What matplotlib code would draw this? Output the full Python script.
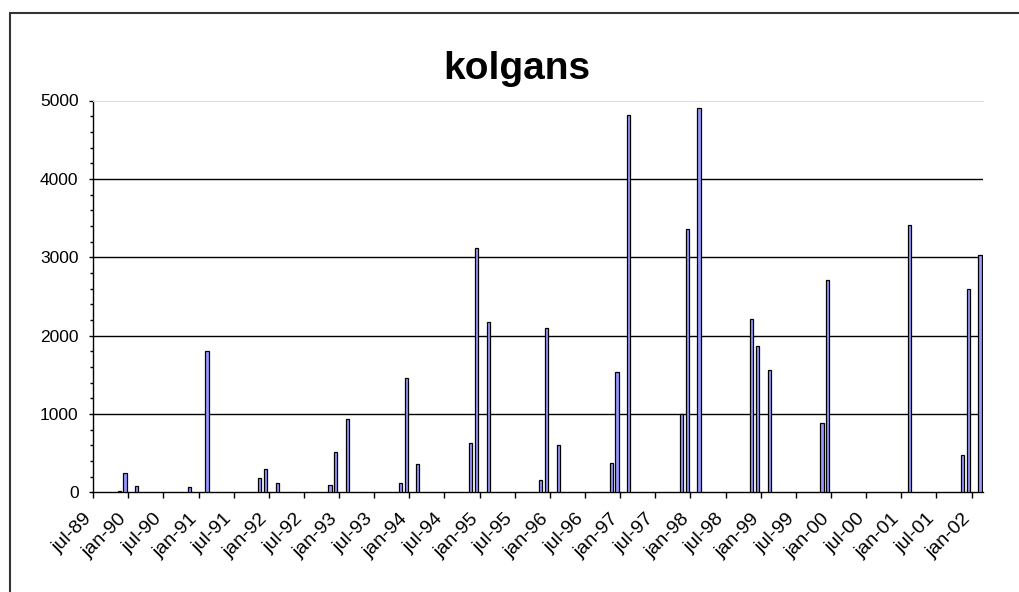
import matplotlib
matplotlib.use("Agg")
import matplotlib.pyplot as plt
from matplotlib.patches import Rectangle
from matplotlib.ticker import MultipleLocator
from matplotlib.transforms import ScaledTranslation

plt.rcParams['font.family'] = ['Liberation Sans', 'DejaVu Sans']

# Monthly categories from jul-89 to feb-02
month_names = ['jan', 'feb', 'mar', 'apr', 'maj', 'jun',
               'jul', 'aug', 'sep', 'okt', 'nov', 'dec']
categories = []
for k in range(152):
    m = (6 + k) % 12
    y = (1989 + (6 + k) // 12) % 100
    categories.append(f"{month_names[m]}-{y:02d}")

# Months with data and their values
bar_months = ['nov-89', 'dec-89', 'feb-90', 'nov-90', 'feb-91',
              'nov-91', 'dec-91', 'feb-92', 'nov-92', 'dec-92', 'feb-93',
              'nov-93', 'dec-93', 'feb-94', 'nov-94', 'dec-94', 'feb-95',
              'nov-95', 'dec-95', 'feb-96', 'nov-96', 'dec-96', 'feb-97',
              'nov-97', 'dec-97', 'feb-98', 'nov-98', 'dec-98', 'feb-99',
              'nov-99', 'dec-99', 'feb-01', 'nov-01', 'dec-01', 'feb-02']
bar_values = [20, 240, 75, 68, 1800,
              185, 295, 115, 90, 515, 935,
              115, 1465, 355, 630, 3120, 2175,
              155, 2095, 600, 370, 1540, 4810,
              1000, 3360, 4905, 2215, 1862, 1558,
              885, 2710, 3410, 476, 2590, 3030]

tick_labels = ['jul-89', 'jan-90', 'jul-90', 'jan-91', 'jul-91', 'jan-92',
               'jul-92', 'jan-93', 'jul-93', 'jan-94', 'jul-94', 'jan-95',
               'jul-95', 'jan-96', 'jul-96', 'jan-97', 'jul-97', 'jan-98',
               'jul-98', 'jan-99', 'jul-99', 'jan-00', 'jul-00', 'jan-01',
               'jul-01', 'jan-02']

W, H = 1019, 592
fig = plt.figure(figsize=(W / 100, H / 100), dpi=100)
fig.patch.set_facecolor('white')

# outer chart-area border
fig.patches.append(Rectangle((10 / W, -0.02), 1.05, (H - 13) / H + 0.02,
                             transform=fig.transFigure, fill=False,
                             edgecolor='#333333', linewidth=1.5, zorder=0))

left, right = 93.1 / W, 983.3 / W
bottom, top = (H - 492.3) / H, (H - 100.5) / H
ax = fig.add_axes([left, bottom, right - left, top - bottom])

xpos = [categories.index(mn) + 0.45 for mn in bar_months]
ax.bar(xpos, bar_values, width=0.55, color='#9999FF', edgecolor='black',
       linewidth=0.9, zorder=3)

ax.set_xlim(0, 152)
ax.set_ylim(0, 5000)

for gy in [1000, 2000, 3000, 4000]:
    ax.axhline(gy, color='black', linewidth=1.0, zorder=1)

ax.spines['right'].set_visible(False)
ax.spines['top'].set_color('#DDDDDD')
ax.spines['left'].set_linewidth(1.0)
ax.spines['bottom'].set_linewidth(1.0)

ax.set_yticks([0, 1000, 2000, 3000, 4000, 5000])
ax.yaxis.set_minor_locator(MultipleLocator(200))
ax.tick_params(axis='y', which='major', direction='out', length=3,
               width=1, labelsize=12.5, pad=7.5)
ax.tick_params(axis='y', which='minor', direction='out', length=2.5,
               width=1)

tick_pos = [categories.index(t) for t in tick_labels]
ax.set_xticks(tick_pos)
ax.set_xticklabels(tick_labels, rotation=45, ha='right', va='top',
                   rotation_mode='anchor', fontsize=14)
ax.tick_params(axis='x', which='major', direction='out', length=4,
               width=1, pad=9)
shift = ScaledTranslation(-10 / 100, 0, fig.dpi_scale_trans)
for lbl in ax.get_xticklabels():
    lbl.set_transform(lbl.get_transform() + shift)

fig.text(517 / W, (H - 79) / H, 'kolgans', ha='center', va='baseline',
         fontsize=28, fontweight='bold')

fig.savefig('out.png', dpi=100)
